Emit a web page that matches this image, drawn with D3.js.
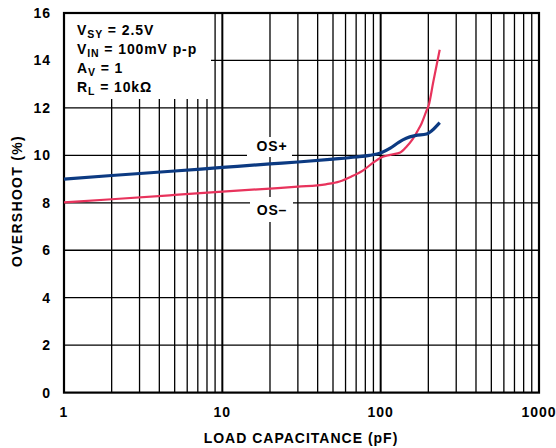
<!DOCTYPE html>
<html><head><meta charset="utf-8">
<script src="https://cdn.jsdelivr.net/npm/d3@7"></script>
<style>
html,body{margin:0;padding:0;background:#fff;}
svg text{font-family:"Liberation Sans",Arial,Helvetica,sans-serif;font-weight:bold;fill:#000;}
</style></head><body>
<svg id="c" width="556" height="448"></svg>
<script>
// Data
const osPlusCap = [1, 2, 5, 10, 20, 30, 50, 70, 85, 100, 115, 130, 145, 165, 195, 211, 236];
const osPlusVal = [9.0, 9.15, 9.34, 9.49, 9.64, 9.72, 9.84, 9.93, 10.0, 10.1, 10.3, 10.55, 10.72, 10.83, 10.9, 11.05, 11.38];
const osMinusCap = [1, 2, 5, 10, 20, 30, 45, 55, 65, 78, 90, 100, 115, 133, 146, 158, 170, 180, 194, 201, 215, 236];
const osMinusVal = [8.02, 8.15, 8.33, 8.47, 8.6, 8.68, 8.78, 8.9, 9.1, 9.38, 9.7, 9.9, 10.02, 10.12, 10.37, 10.65, 11.0, 11.3, 11.85, 12.1, 13.1, 14.45];
const xTickVals = [1, 10, 100, 1000];
const xTickLabels = ["1", "10", "100", "1000"];
const yTickVals = [0, 2, 4, 6, 8, 10, 12, 14, 16];
const yTickLabels = ["0", "2", "4", "6", "8", "10", "12", "14", "16"];
const legendLines = [["V", "SY", " = 2.5V"], ["V", "IN", " = 100mV p-p"], ["A", "V", " = 1"], ["R", "L", " = 10kΩ"]];
const seriesLabels = ["OS+", "OS–"];

const svg = d3.select("#c");
const L = 64, R = 539, T = 13, B = 392.6;
const x = d3.scaleLog().domain([1, 1000]).range([L, R]);
const y = d3.scaleLinear().domain([0, 16]).range([B, T]);

// grid
const minor = [];
[1, 10, 100].forEach(d => { for (let k = 2; k <= 9; k++) minor.push(d * k); });
const g = svg.append("g");
g.selectAll("line.v").data(minor).join("line")
  .attr("x1", d => x(d)).attr("x2", d => x(d)).attr("y1", T).attr("y2", B)
  .attr("stroke", "#000").attr("stroke-width", 1.3);
g.selectAll("line.d").data([10, 100]).join("line")
  .attr("x1", d => x(d)).attr("x2", d => x(d)).attr("y1", T).attr("y2", B)
  .attr("stroke", "#000").attr("stroke-width", 2);
g.selectAll("line.h").data([2, 4, 6, 8, 10, 12, 14]).join("line")
  .attr("x1", L).attr("x2", R).attr("y1", d => y(d)).attr("y2", d => y(d))
  .attr("stroke", "#000").attr("stroke-width", 1.3);

// white boxes
svg.append("rect").attr("x", L).attr("y", T).attr("width", 147).attr("height", 86).attr("fill", "#fff");
svg.append("rect").attr("x", 247).attr("y", 137).attr("width", 45).attr("height", 20).attr("fill", "#fff");
svg.append("rect").attr("x", 250).attr("y", 197).attr("width", 43).attr("height", 25).attr("fill", "#fff");

// frame
svg.append("rect").attr("x", L).attr("y", T).attr("width", R - L).attr("height", B - T)
  .attr("fill", "none").attr("stroke", "#000").attr("stroke-width", 2.2);

// curves
const line = d3.line().x(d => x(d[0])).y(d => y(d[1])).curve(d3.curveMonotoneX);
svg.append("path").datum(osMinusCap.map((c, i) => [c, osMinusVal[i]]))
  .attr("d", line).attr("fill", "none").attr("stroke", "#e8335c").attr("stroke-width", 2.2);
svg.append("path").datum(osPlusCap.map((c, i) => [c, osPlusVal[i]]))
  .attr("d", line).attr("fill", "none").attr("stroke", "#0c3a82").attr("stroke-width", 3.2);

// tick labels
svg.selectAll("text.xt").data(xTickVals).join("text")
  .attr("x", d => x(d)).attr("y", 417).attr("text-anchor", "middle")
  .style("font-size", "14px").style("letter-spacing", "1px")
  .text((d, i) => xTickLabels[i]);
svg.selectAll("text.yt").data(yTickVals).join("text")
  .attr("x", 51).attr("y", d => y(d) + 5).attr("text-anchor", "end")
  .style("font-size", "14px").style("letter-spacing", "1px")
  .text((d, i) => yTickLabels[i]);

// axis titles
svg.append("text").attr("x", 301).attr("y", 443).attr("text-anchor", "middle")
  .style("font-size", "14px").style("letter-spacing", "1px").text("LOAD CAPACITANCE (pF)");
svg.append("text").attr("transform", "translate(22,201) rotate(-90)").attr("text-anchor", "middle")
  .style("font-size", "14px").style("letter-spacing", "1.3px").text("OVERSHOOT (%)");

// legend
legendLines.forEach((ln, i) => {
  const t = svg.append("text").attr("x", 77).attr("y", 35 + i * 19)
    .style("font-size", "14px").style("letter-spacing", "0.9px");
  t.append("tspan").text(ln[0]);
  t.append("tspan").attr("dy", 3).style("font-size", "10.5px").text(ln[1]);
  t.append("tspan").attr("dy", -3).text(ln[2]);
});

// series labels
svg.append("text").attr("x", 272).attr("y", 151).attr("text-anchor", "middle")
  .style("font-size", "14px").style("letter-spacing", "0.8px").text(seriesLabels[0]);
svg.append("text").attr("x", 272).attr("y", 215).attr("text-anchor", "middle")
  .style("font-size", "14px").style("letter-spacing", "0.8px").text(seriesLabels[1]);
</script></body></html>
